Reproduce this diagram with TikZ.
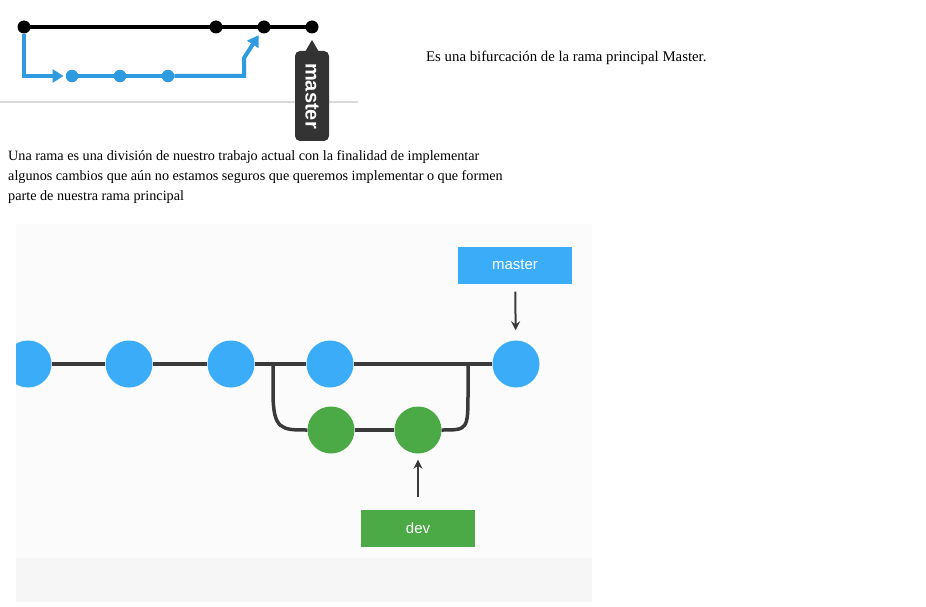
\documentclass[tikz,border=0pt]{standalone}
\usepackage{fontspec}
\setmainfont{Liberation Serif}
\setsansfont{Liberation Sans}
\usetikzlibrary{arrows.meta, positioning}

\definecolor{gitblue}{HTML}{2E9AE0}
\definecolor{cblue}{HTML}{3AACF8}
\definecolor{cgreen}{HTML}{4BAA45}
\definecolor{tagdark}{HTML}{333333}
\definecolor{linedark}{HTML}{3A3A3A}
\definecolor{bggray}{HTML}{FBFBFC}
\definecolor{bandgray}{HTML}{F6F6F6}

\tikzset{
    dot/.style={circle, fill=black, inner sep=0pt, minimum size=13pt},
    bdot/.style={circle, fill=gitblue, inner sep=0pt, minimum size=12.5pt},
    commit/.style={circle, fill=cblue, inner sep=0pt, minimum size=47pt},
    gcommit/.style={circle, fill=cgreen, inner sep=0pt, minimum size=47pt},
    branch/.style={linedark, line width=3.5pt},
    tag/.style={fill=tagdark, text=white, rounded corners=5pt, rotate=-90,
        minimum width=90pt, minimum height=34pt, inner sep=0pt,
        font=\sffamily\bfseries\fontsize{20}{20}\selectfont},
    label box/.style={text=white, minimum width=114pt, minimum height=37pt,
        inner sep=0pt, font=\sffamily\fontsize{15}{15}\selectfont},
    ptr/.style={linedark, line width=2pt, -{Stealth[length=9pt,width=9pt]}},
}

\begin{document}
\begin{tikzpicture}[x=1pt, y=-1pt]
    \useasboundingbox (0,0) rectangle (926,607);

    % top sketch
    \node[dot] (a0) at (24,27) {};
    \node[dot] (a1) at (216,27) {};
    \node[dot] (a2) at (264,27) {};
    \node[dot] (a3) at (312,27) {};
    \draw[line width=4pt] (a0.center) -- (a3.center);

    \node[bdot] (b1) at (72,76) {};
    \node[bdot] (b2) at (120,76) {};
    \node[bdot] (b3) at (168,76) {};
    \coordinate (b0) at (24,76);
    \coordinate (b4) at (244,76);
    \coordinate (b5) at (244,58);
    \draw[gitblue, line width=4pt, -{Triangle[length=11pt,width=13pt]}, shorten >=2pt]
        (a0) -- (b0) -- (b1);
    \draw[gitblue, line width=4pt] (b1.center) -- (b3.center);
    \draw[gitblue, line width=4pt, -{Triangle[length=11pt,width=13pt]}, shorten >=3pt]
        (b3) -- (b4) -- (b5) -- (a2);

    \draw[gray!30, line width=1.5pt] (0,102) -- (358,102);

    \node[tag] (tag) at (312,96) {master};
    \coordinate (tip) at (312,40);
    \fill[tagdark] (tip) -- (302,57) -- (322,57) -- cycle;

    \node[anchor=west, inner sep=0pt, font=\fontsize{14.8}{16}\selectfont] (note) at (426,58)
        {Es una bifurcación de la rama principal Master.};

    \node[anchor=north west, align=left, inner sep=0pt, font=\fontsize{14.2}{20}\selectfont] (para) at (8,150)
        {Una rama es una división de nuestro trabajo actual con la finalidad de implementar\\
         algunos cambios que aún no estamos seguros que queremos implementar o que formen\\
         parte de nuestra rama principal};

    % bottom picture
    \fill[bggray] (16,224) rectangle (592,602);
    \fill[bandgray] (16,558) rectangle (592,602);

    \begin{scope}
        \clip (16,224) rectangle (592,602);
        \node[commit] (c1) at (28,364) {};
    \end{scope}
    \node[commit] (c2) at (129,364) {};
    \node[commit] (c3) at (231,364) {};
    \node[commit] (c4) at (330,364) {};
    \node[commit] (c5) at (516,364) {};
    \node[gcommit] (g1) at (331,430) {};
    \node[gcommit] (g2) at (418,430) {};

    \draw[branch] (c1) -- (c2);
    \draw[branch] (c2) -- (c3);
    \draw[branch] (c3) -- (c4);
    \draw[branch] (c4) -- (c5);
    \draw[branch] (g1) -- (g2);

    \coordinate (forkL) at (273,364);
    \coordinate (bendL) at (273,392);
    \coordinate (bendR) at (468,392);
    \coordinate (joinR) at (468,364);
    \draw[branch] (forkL) -- (bendL) .. controls +(0,38) and +(-26,0) .. (g1.west);
    \draw[branch] (g2.east) .. controls +(26,0) and +(0,38) .. (bendR) -- (joinR);

    \node[label box, fill=cblue] (mlabel) at (515,265) {master};
    \node[label box, fill=cgreen] (dlabel) at (418,528) {dev};
    \draw[ptr, shorten <=8pt, shorten >=10pt] (mlabel) -- (c5);
    \draw[ptr, shorten <=12pt, shorten >=6pt] (dlabel) -- (g2);
\end{tikzpicture}
\end{document}
